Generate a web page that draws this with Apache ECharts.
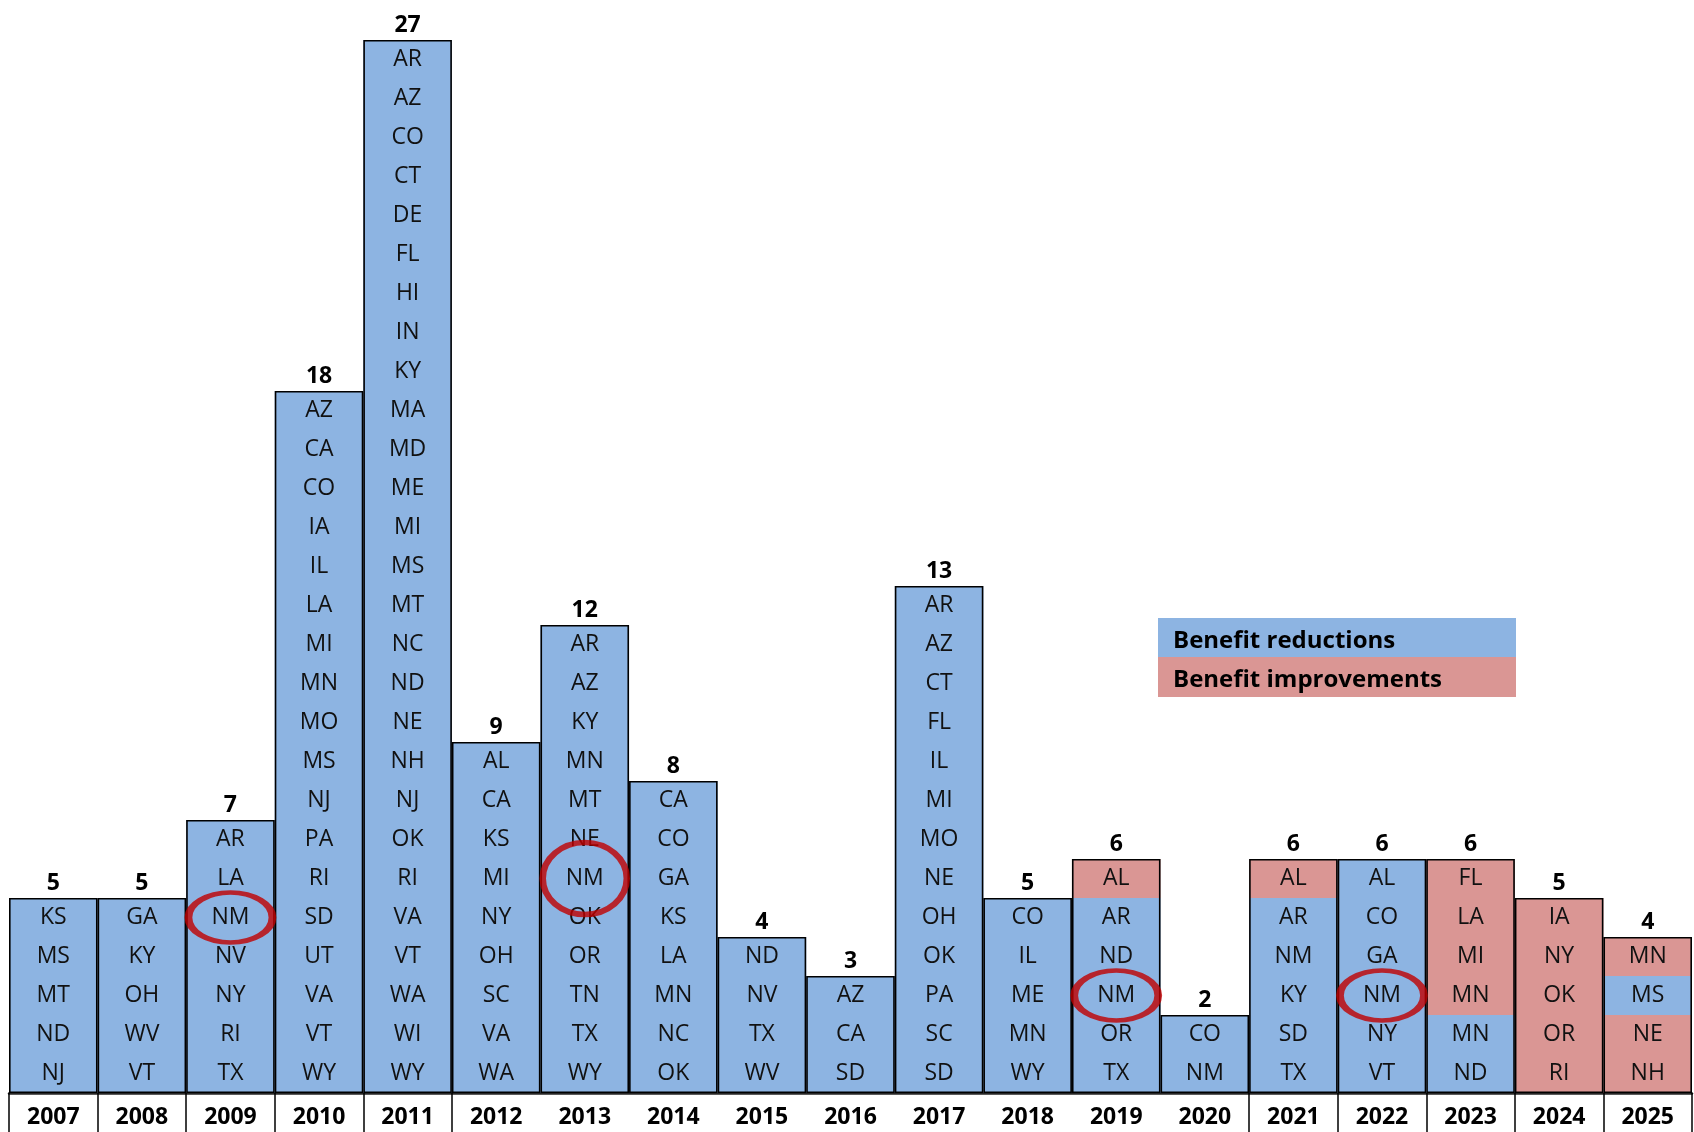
<!DOCTYPE html>
<html>
<head>
<meta charset="utf-8">
<script src="https://cdn.jsdelivr.net/npm/echarts@6/dist/echarts.min.js"></script>
<style>
  html, body { margin: 0; padding: 0; background: #fff; }
  #chart { width: 1694px; height: 1132px; }
</style>
</head>
<body>
<div id="chart"></div>
<script>
// Years shown along the bottom row
const years = ['2007','2008','2009','2010','2011','2012','2013','2014','2015','2016',
               '2017','2018','2019','2020','2021','2022','2023','2024','2025'];

// States that changed benefits each year, listed top to bottom within the column
const states = [
  ['KS','MS','MT','ND','NJ'],
  ['GA','KY','OH','WV','VT'],
  ['AR','LA','NM','NV','NY','RI','TX'],
  ['AZ','CA','CO','IA','IL','LA','MI','MN','MO','MS','NJ','PA','RI','SD','UT','VA','VT','WY'],
  ['AR','AZ','CO','CT','DE','FL','HI','IN','KY','MA','MD','ME','MI','MS','MT','NC','ND','NE','NH','NJ','OK','RI','VA','VT','WA','WI','WY'],
  ['AL','CA','KS','MI','NY','OH','SC','VA','WA'],
  ['AR','AZ','KY','MN','MT','NE','NM','OK','OR','TN','TX','WY'],
  ['CA','CO','GA','KS','LA','MN','NC','OK'],
  ['ND','NV','TX','WV'],
  ['AZ','CA','SD'],
  ['AR','AZ','CT','FL','IL','MI','MO','NE','OH','OK','PA','SC','SD'],
  ['CO','IL','ME','MN','WY'],
  ['AL','AR','ND','NM','OR','TX'],
  ['CO','NM'],
  ['AL','AR','NM','KY','SD','TX'],
  ['AL','CO','GA','NM','NY','VT'],
  ['FL','LA','MI','MN','MN','ND'],
  ['IA','NY','OK','OR','RI'],
  ['MN','MS','NE','NH']
];

// Kind of change for each cell above: R = benefit reduction, I = benefit improvement
const kinds = [
  'RRRRR', 'RRRRR', 'RRRRRRR', 'RRRRRRRRRRRRRRRRRR', 'RRRRRRRRRRRRRRRRRRRRRRRRRRR',
  'RRRRRRRRR', 'RRRRRRRRRRRR', 'RRRRRRRR', 'RRRR', 'RRR', 'RRRRRRRRRRRRR', 'RRRRR',
  'IRRRRR', 'RR', 'IRRRRR', 'RRRRRR', 'IIIIRR', 'IIIII', 'IRII'
];

// Cells highlighted with a red ring
const circled = [['2009','NM'], ['2013','NM'], ['2019','NM'], ['2022','NM']];

const legendLabels = ['Benefit reductions', 'Benefit improvements'];

// ---- styling ----
const COLORS = { R: '#8DB4E2', I: '#DA9694' };
const RING = '#C00000';
const FONT = '"Open Sans", "Liberation Sans", sans-serif';
const ringSize = { '2013': [84, 72] };
const defaultRing = [84, 50];

const totals = states.map(s => s.length);
const maxLevel = Math.max(...totals);

// One stacked series per level; level 0 is the bottom cell of every column
const cellSeries = [];
for (let k = 0; k < maxLevel; k++) {
  cellSeries.push({
    type: 'bar',
    stack: 'cells',
    silent: true,
    barWidth: '100%',
    barGap: '-100%',
    barCategoryGap: 0,
    z: 2,
    data: years.map((y, i) => {
      const n = states[i].length;
      if (k >= n) return '-';
      const j = n - 1 - k;
      return { value: 1, state: states[i][j], itemStyle: { color: COLORS[kinds[i][j]] } };
    }),
    label: {
      show: true,
      position: 'inside',
      formatter: p => p.data.state,
      color: '#111',
      fontFamily: FONT,
      fontSize: 23
    }
  });
}

// Column outlines with the count on top
const outlineSeries = {
  type: 'bar',
  silent: true,
  barWidth: '100%',
  barGap: '-100%',
  z: 3,
  data: totals,
  itemStyle: { color: 'rgba(0,0,0,0)', borderColor: '#000', borderWidth: 1.6 },
  label: {
    show: true,
    position: 'top',
    distance: 3,
    color: '#000',
    fontFamily: FONT,
    fontWeight: 'bold',
    fontSize: 23
  }
};

// Red rings around the highlighted cells
const ringSeries = {
  type: 'scatter',
  silent: true,
  z: 6,
  symbol: 'circle',
  itemStyle: { color: 'rgba(0,0,0,0)', borderColor: RING, borderWidth: 6 },
  data: circled.map(([y, s]) => {
    const i = years.indexOf(y);
    const n = states[i].length;
    const j = states[i].indexOf(s);
    return { value: [y, n - j - 0.5], symbolSize: ringSize[y] || defaultRing };
  })
};

const chart = echarts.init(document.getElementById('chart'), null, { renderer: 'canvas' });
chart.setOption({
  animation: false,
  backgroundColor: '#fff',
  // plot height 1053 = 27 whole-pixel rows of 39px, so stacked cells meet cleanly
  grid: { left: 9, right: 2, top: 40, bottom: 39 },
  xAxis: {
    type: 'category',
    data: years,
    boundaryGap: true,
    axisLine: { show: true, lineStyle: { color: '#262626', width: 2.5 } },
    axisTick: {
      show: true,
      length: 40,
      interval: idx => idx <= 5 || idx >= 14,
      lineStyle: { color: '#000', width: 1.5 }
    },
    axisLabel: {
      interval: 0,
      margin: 13,
      color: '#000',
      fontFamily: FONT,
      fontWeight: 'bold',
      fontSize: 23
    },
    splitLine: { show: false }
  },
  yAxis: { type: 'value', min: 0, max: maxLevel, show: false },
  series: [...cellSeries, outlineSeries, ringSeries],
  graphic: [
    { type: 'rect', x: 1158, y: 618, shape: { width: 358, height: 39 },
      style: { fill: COLORS.R }, z: 10 },
    { type: 'rect', x: 1158, y: 657, shape: { width: 358, height: 40 },
      style: { fill: COLORS.I }, z: 10 },
    { type: 'text', x: 1173, y: 641, z: 11,
      style: { text: legendLabels[0], fill: '#000', font: 'bold 24px ' + FONT, verticalAlign: 'middle' } },
    { type: 'text', x: 1173, y: 680, z: 11,
      style: { text: legendLabels[1], fill: '#000', font: 'bold 24px ' + FONT, verticalAlign: 'middle' } }
  ]
});
</script>
</body>
</html>
